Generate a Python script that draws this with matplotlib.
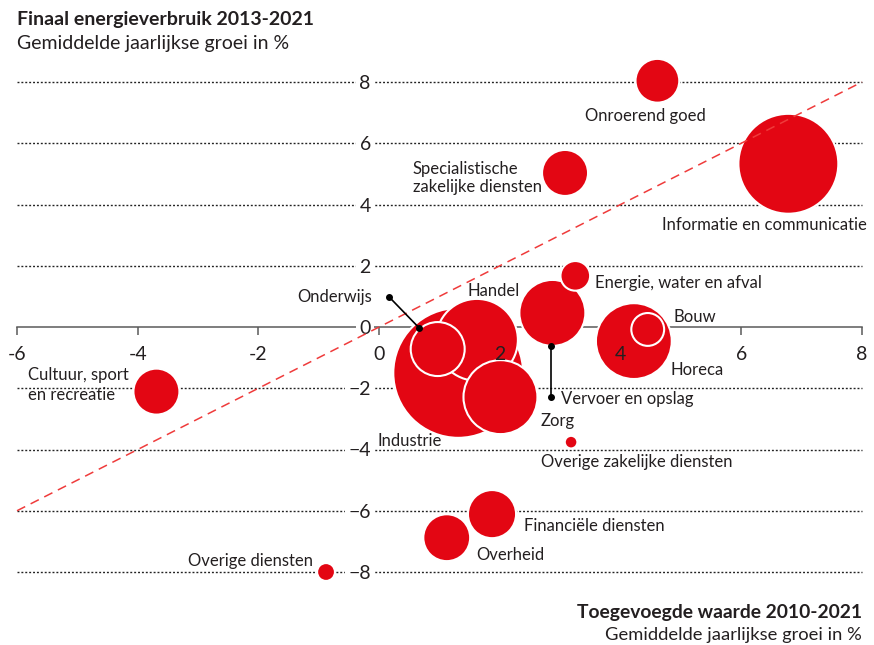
import matplotlib
matplotlib.use("Agg")
import matplotlib.pyplot as plt

# ---------------- data ----------------
sectoren = ["Industrie", "Informatie en communicatie", "Handel", "Horeca", "Zorg",
            "Vervoer en opslag", "Onderwijs", "Financiële diensten", "Overheid",
            "Specialistische zakelijke diensten", "Cultuur, sport en recreatie",
            "Onroerend goed", "Bouw", "Energie, water en afval", "Overige diensten",
            "Overige zakelijke diensten"]
groei_toegevoegde_waarde = [1.31, 6.78, 1.62, 4.22, 2.01, 2.87, 0.97, 1.87, 1.12,
                            3.08, -3.69, 4.61, 4.45, 3.25, -0.88, 3.18]
groei_energieverbruik = [-1.50, 5.33, -0.42, -0.46, -2.29, 0.46, -0.72, -6.11, -6.88,
                         5.03, -2.11, 8.04, -0.08, 1.67, -8.00, -3.76]
omvang = [422, 250, 168, 144, 137, 109, 73, 58, 55, 53, 53, 48, 27, 22, 8, 4]

x_ticks = [-6, -4, -2, 0, 2, 4, 6, 8]
y_ticks = [8, 6, 4, 2, 0, -2, -4, -6, -8]

# ---------------- layout / styles ----------------
RED = "#e30613"
DASH_RED = "#ef3b3b"
TXT = "#231f20"
GREY = "#5a5a5a"
FONT = "Lato"
LBL = 12
TICK = 14

labels = {  # text, x, y, ha, linespacing
    "Onroerend goed": ("Onroerend goed", 4.41, 6.88, "center", 1.15),
    "Informatie en communicatie": ("Informatie en communicatie", 6.39, 3.33, "center", 1.15),
    "Specialistische zakelijke diensten": ("Specialistische\nzakelijke diensten", 0.56, 4.87, "left", 1.15),
    "Energie, water en afval": ("Energie, water en afval", 3.58, 1.45, "left", 1.15),
    "Handel": ("Handel", 1.89, 1.16, "center", 1.15),
    "Onderwijs": ("Onderwijs", -0.12, 0.99, "right", 1.15),
    "Bouw": ("Bouw", 4.87, 0.34, "left", 1.15),
    "Horeca": ("Horeca", 4.82, -1.42, "left", 1.15),
    "Vervoer en opslag": ("Vervoer en opslag", 3.02, -2.34, "left", 1.15),
    "Zorg": ("Zorg", 2.68, -3.06, "left", 1.15),
    "Industrie": ("Industrie", -0.03, -3.71, "left", 1.15),
    "Overige zakelijke diensten": ("Overige zakelijke diensten", 2.68, -4.40, "left", 1.15),
    "Cultuur, sport en recreatie": ("Cultuur, sport\nen recreatie", -5.82, -1.89, "left", 1.27),
    "Financiële diensten": ("Financiële diensten", 2.40, -6.49, "left", 1.15),
    "Overheid": ("Overheid", 1.61, -7.46, "left", 1.15),
    "Overige diensten": ("Overige diensten", -1.09, -7.63, "right", 1.15),
}
leaders = [((0.166, 0.98), (0.663, -0.03)), ((2.85, -0.62), (2.85, -2.29))]

W, H = 874, 645
fig = plt.figure(figsize=(W / 100, H / 100), dpi=100)
ax = fig.add_axes([17 / W, (H - 572) / H, 845 / W, 490 / H])
ax.set_xlim(-6, 8)
ax.set_ylim(-8, 8)

for s in ["top", "right"]:
    ax.spines[s].set_visible(False)
ax.spines["left"].set_position(("data", 0))
ax.spines["left"].set_visible(False)
ax.spines["bottom"].set_position(("data", 0))
ax.spines["bottom"].set_color(GREY)
ax.spines["bottom"].set_linewidth(1.1)
ax.spines["bottom"].set_zorder(1.2)
ax.set_xticks(x_ticks)
ax.tick_params(axis="x", direction="out", length=5.8, width=1.1, color=GREY,
               labelbottom=False)
ax.xaxis.set_zorder(1.2)

ax.set_yticks(y_ticks)
ax.tick_params(axis="y", length=0, pad=6.0, labelsize=TICK, labelcolor=TXT)
ax.yaxis.set_zorder(3)
for lbl in ax.get_yticklabels():
    lbl.set_fontfamily(FONT)
    lbl.set_bbox(dict(facecolor="white", edgecolor="none", pad=2.5))

# dotted gridlines
for v in y_ticks:
    if v != 0:
        ax.axhline(v, color="#222222", lw=1.0, ls=(0, (1.4, 1.4)), zorder=1,
                   clip_on=False)

# x tick labels above bubbles
for v in x_ticks:
    ax.annotate(f"{v}", (v, 0), xytext=(0, -27), textcoords="offset pixels",
                ha="center", va="center", fontsize=TICK, color=TXT,
                family=FONT, zorder=7)

# bubbles
ax.scatter(groei_toegevoegde_waarde, groei_energieverbruik,
           s=[v * 20.7 for v in omvang], color=RED, edgecolor="white",
           linewidth=1.5, zorder=5, clip_on=False)

# diagonal y = x
ax.plot([-6, 8], [-6, 8], color=DASH_RED, lw=1.1, ls=(0, (6, 4)), zorder=6,
        clip_on=False)

# leader lines
for (p0, p1) in leaders:
    ax.plot([p0[0], p1[0]], [p0[1], p1[1]], color="black", lw=1.2, zorder=8,
            marker="o", markersize=4)

# labels
for name in sectoren:
    t, lx, ly, ha, ls_ = labels[name]
    ax.text(lx, ly, t, ha=ha, va="center", fontsize=LBL, color=TXT,
            family=FONT, linespacing=ls_, zorder=9)

# titles
fig.text(17 / W, 1 - 25.5 / H, "Finaal energieverbruik 2013-2021", ha="left",
         va="baseline", fontsize=14, fontweight="bold", color=TXT, family=FONT)
fig.text(17 / W, 1 - 49 / H, "Gemiddelde jaarlijkse groei in %", ha="left",
         va="baseline", fontsize=14, color=TXT, family=FONT)
fig.text(862 / W, 1 - 618 / H, "Toegevoegde waarde 2010-2021", ha="right",
         va="baseline", fontsize=13.9, fontweight="bold", color=TXT, family=FONT)
fig.text(862 / W, 1 - 640 / H, "Gemiddelde jaarlijkse groei in %", ha="right",
         va="baseline", fontsize=13.2, color=TXT, family=FONT)

fig.savefig("out.png", dpi=100)
